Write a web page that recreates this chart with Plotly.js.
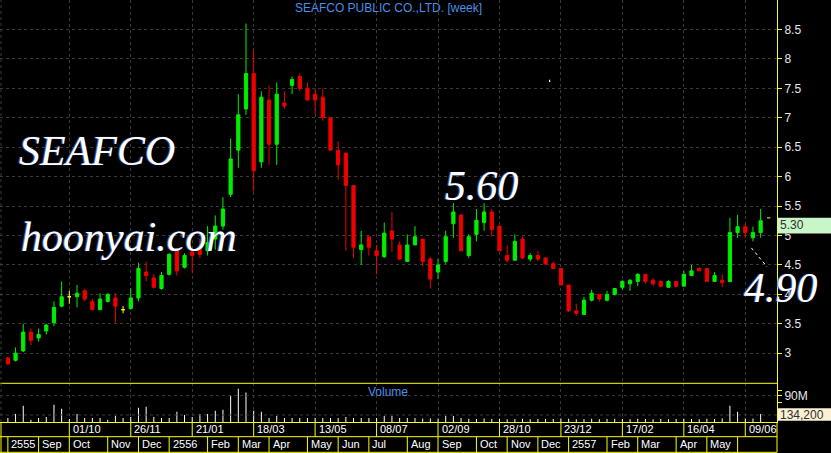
<!DOCTYPE html>
<html><head><meta charset="utf-8">
<script src="https://cdn.plot.ly/plotly-3.0.1.min.js"></script>
<style>html,body{margin:0;padding:0;background:#000;overflow:hidden}#chart{width:831px;height:453px}</style>
</head><body><div id="chart"></div>
<script>
// ---- data (weekly, SEAFCO) ----
const weeks = [
'2012-08-06','2012-08-13','2012-08-20','2012-08-27','2012-09-03','2012-09-10','2012-09-17','2012-09-24','2012-10-01','2012-10-08',
'2012-10-15','2012-10-22','2012-10-29','2012-11-05','2012-11-12','2012-11-19','2012-11-26','2012-12-03','2012-12-10','2012-12-17',
'2012-12-24','2012-12-31','2013-01-07','2013-01-14','2013-01-21','2013-01-28','2013-02-04','2013-02-11','2013-02-18','2013-02-25',
'2013-03-04','2013-03-11','2013-03-18','2013-03-25','2013-04-01','2013-04-08','2013-04-15','2013-04-22','2013-04-29','2013-05-06',
'2013-05-13','2013-05-20','2013-05-27','2013-06-03','2013-06-10','2013-06-17','2013-06-24','2013-07-01','2013-07-08','2013-07-15',
'2013-07-22','2013-07-29','2013-08-05','2013-08-12','2013-08-19','2013-08-26','2013-09-02','2013-09-09','2013-09-16','2013-09-23',
'2013-09-30','2013-10-07','2013-10-14','2013-10-21','2013-10-28','2013-11-04','2013-11-11','2013-11-18','2013-11-25','2013-12-02',
'2013-12-09','2013-12-16','2013-12-23','2013-12-30','2014-01-06','2014-01-13','2014-01-20','2014-01-27','2014-02-03','2014-02-10',
'2014-02-17','2014-02-24','2014-03-03','2014-03-10','2014-03-17','2014-03-24','2014-03-31','2014-04-07','2014-04-14','2014-04-21',
'2014-04-28','2014-05-05','2014-05-12','2014-05-19','2014-05-26','2014-06-02','2014-06-09','2014-06-16','2014-06-23'];

const open = [
2.92,2.88,3.04,3.36,3.26,3.38,3.52,3.80,3.96,3.96, 4.06,3.88,3.74,3.88,3.94,3.74,3.76,3.94,4.38,4.28,
4.10,4.34,4.76,4.46,4.72,4.76,4.74,4.94,5.16,5.70, 6.45,7.15,7.75,6.25,7.30,6.55,7.25,7.55,7.70,7.50,
7.40,7.35,7.00,6.45,6.40,5.85,4.76,4.98,4.74,4.64, 5.08,4.84,4.56,4.84,4.94,4.60,4.38,4.56,5.20,5.35,
4.66,5.02,5.22,5.40,5.16,4.66,4.58,4.94,4.60,4.66, 4.62,4.52,4.44,4.16,3.72,3.66,3.90,4.00,3.90,4.00,
4.12,4.18,4.22,4.34,4.24,4.22,4.12,4.22,4.14,4.32, 4.44,4.44,4.22,4.24,4.22,5.05,5.15,4.96,5.05];
const high = [
2.94,3.10,3.50,3.42,3.42,3.50,3.88,4.22,4.06,4.16, 4.10,3.92,4.02,4.02,4.02,3.80,4.10,4.54,4.56,4.34,
4.38,4.70,4.78,4.70,4.74,4.94,5.16,5.34,5.65,6.65, 7.40,8.60,8.15,7.45,7.55,7.60,7.45,7.70,7.75,7.60,
7.50,7.50,7.00,6.60,6.40,5.85,5.08,4.98,4.84,5.22, 5.40,4.90,5.02,5.16,4.94,4.64,4.60,5.08,5.55,5.35,
5.02,5.45,5.55,5.45,5.16,4.84,5.02,4.98,4.70,4.74, 4.62,4.56,4.44,4.16,3.84,3.96,4.08,4.00,4.06,4.10,
4.24,4.26,4.36,4.34,4.28,4.24,4.24,4.22,4.40,4.50, 4.46,4.44,4.38,4.34,5.30,5.35,5.20,5.15,5.45];
const low = [
2.80,2.86,3.02,3.14,3.20,3.32,3.46,3.78,3.84,3.78, 3.88,3.74,3.74,3.86,3.52,3.68,3.74,3.88,4.22,4.10,
4.08,4.32,4.32,4.44,4.36,4.62,4.66,4.76,5.10,5.65, 6.15,7.05,5.75,6.15,6.20,6.20,7.15,7.40,7.45,7.30,
7.05,6.95,6.45,5.95,4.74,4.62,4.50,4.66,4.34,4.62, 4.72,4.58,4.56,4.84,4.48,4.10,4.26,4.52,4.96,4.74,
4.62,4.90,5.08,4.98,4.74,4.54,4.58,4.60,4.56,4.56, 4.50,4.44,4.16,3.70,3.64,3.66,3.88,3.88,3.88,3.98,
4.08,4.06,4.14,4.18,4.14,4.12,4.12,4.12,4.14,4.32, 4.40,4.22,4.22,4.12,4.22,4.96,4.96,4.90,4.96];
const close = [
2.82,3.00,3.36,3.22,3.32,3.48,3.78,3.96,3.96,4.02, 3.92,3.74,3.92,4.00,3.80,3.74,3.94,4.44,4.32,4.12,
4.32,4.68,4.40,4.66,4.66,4.68,4.88,5.16,5.45,6.30, 7.05,7.75,6.10,7.35,6.55,7.40,7.20,7.65,7.50,7.30,
7.30,7.00,6.45,6.20,5.85,4.80,4.84,4.80,4.66,5.04, 4.94,4.60,4.84,4.98,4.56,4.26,4.50,4.98,5.40,4.74,
4.98,5.26,5.40,5.10,4.74,4.58,4.90,4.62,4.66,4.60, 4.52,4.44,4.16,3.72,3.68,3.90,4.02,3.92,4.00,4.10,
4.22,4.24,4.34,4.22,4.18,4.14,4.22,4.14,4.34,4.40, 4.40,4.22,4.32,4.20,5.05,5.15,5.05,5.05,5.25];
// weekly volume, million shares
const volume = [
13.8,27.7,55.4,8.1,13.8,17.3,58.8,45.0,10.4,27.7, 13.8,13.8,13.8,8.1,20.8,13.8,17.3,48.5,51.9,17.3,
13.8,13.8,34.6,24.2,17.3,27.7,27.7,38.1,41.5,90.0, 113.0,100.4,38.1,34.6,13.8,20.8,13.8,13.8,13.8,13.8,
13.8,13.8,13.8,13.8,17.3,13.8,13.8,13.8,13.8,20.8, 20.8,13.8,13.8,13.8,12.0,12.0,12.0,20.8,20.8,13.8,
11.0,10.0,12.0,10.0,11.0,9.0,10.0,11.0,9.0,10.0, 11.0,10.0,12.0,11.0,9.0,10.0,11.0,9.0,10.0,11.0,
10.0,9.0,11.0,10.0,9.0,10.0,9.0,10.0,11.0,10.0, 9.0,11.0,10.0,12.0,55.4,34.6,12.0,12.0,27.7];

const priceTicks = [3,3.5,4,4.5,5,5.5,6,6.5,7,7.5,8,8.5];
const volTicks = [67,90,107];
const volTickText = ['','90M',''];
const dateTickWeeks = ['2012-10-01','2012-11-26','2013-01-21','2013-03-18','2013-05-13','2013-07-08',
                       '2013-09-02','2013-10-28','2013-12-23','2014-02-17','2014-04-14','2014-06-09'];
const dateTickLabels = ['01/10','26/11','21/01','18/03','13/05','08/07','02/09','28/10','23/12','17/02','16/04','09/06'];
const monthStartWeeks = ['2012-08-06','2012-09-03','2012-10-01','2012-11-05','2012-12-03','2012-12-31','2013-02-04',
  '2013-03-04','2013-04-01','2013-05-06','2013-06-03','2013-07-01','2013-08-05','2013-09-02','2013-10-07','2013-11-04',
  '2013-12-02','2013-12-30','2014-02-03','2014-03-03','2014-04-07','2014-05-05','2014-06-02'];
const monthLabels = ['2555','Sep','Oct','Nov','Dec','2556','Feb','Mar','Apr','May','Jun','Jul','Aug','Sep','Oct','Nov',
  'Dec','2557','Feb','Mar','Apr','May',''];
const titleText = 'SEAFCO PUBLIC CO.,LTD. [week]';
const lastPrice = 5.30;
const lastPriceText = '5.30';
const lastVolumeText = '134,200';
const highNote = '5.60';
const lowNote = '4.90';

// ---- style ----
const GRID = '#3a3a3a', YEL = '#ffff00', BLUE = '#4a8fe8', UP = '#00ee00', DN = '#ee0000', DOJI = '#ffff00';
const SANS = 'Liberation Sans, Arial, sans-serif';
const SERIF = 'Liberation Serif, Times New Roman, serif';
const PW = 777, PH = 422;           // plot area in px
const px = v => v / PW, py = v => (PH - v) / PH;
const VSPLIT = py(383.3);

const sel = (arr, f) => arr.map((v, i) => f(i) ? v : null);
function candle(f, color) {
  return {type:'candlestick', x:weeks, open:sel(open,f), high:sel(high,f), low:sel(low,f), close:sel(close,f),
    xaxis:'x', yaxis:'y', whiskerwidth:0, hoverinfo:'skip',
    increasing:{line:{color:color,width:1}, fillcolor:color},
    decreasing:{line:{color:color,width:1}, fillcolor:color}};
}
const traces = [
  candle(i => close[i] > open[i], UP),
  candle(i => close[i] < open[i], DN),
  candle(i => close[i] === open[i], DOJI),
  {type:'bar', x:weeks, y:volume, xaxis:'x', yaxis:'y2', width:0.13,
   marker:{color:'#ffffff', line:{width:0}}, hoverinfo:'skip'}
];

const shapes = [];
const L = (o, color, dash) => Object.assign({type:'line', line:{color:color||YEL, width:1, dash:dash||'solid'}}, o);
// panel separator and row borders
shapes.push(L({xref:'paper', yref:'paper', x0:0, x1:1, y0:VSPLIT, y1:VSPLIT}));
shapes.push(L({xref:'paper', yref:'paper', x0:0, x1:1, y0:py(436.7), y1:py(436.7)}));
shapes.push(L({xref:'paper', yref:'paper', x0:0, x1:1, y0:py(452.3), y1:py(452.3)}));
shapes.push(L({xref:'paper', yref:'paper', x0:0.0013, x1:0.0013, y0:0, y1:py(452.3)}));
shapes.push(L({xref:'paper', yref:'paper', x0:1, x1:1, y0:0, y1:py(452.3)}));
shapes.push(L({xref:'paper', yref:'paper', x0:0.0013, x1:0.0013, y0:0, y1:1}, GRID, '3px,3px'));
// volume panel grid
[90, 24].forEach(v => shapes.push(L({xref:'paper', yref:'y2', x0:0, x1:1, y0:v, y1:v}, GRID, '3px,3px')));

const ann = [];
// date row
dateTickWeeks.forEach((w, k) => {
  const xi = weeks.indexOf(w);
  shapes.push(L({xref:'x', yref:'paper', x0:xi, x1:xi, y0:0, y1:py(436.7)}));
  ann.push({xref:'x', yref:'paper', x:xi, y:py(428.9), xanchor:'left', yanchor:'middle', xshift:1.5,
    text:dateTickLabels[k], showarrow:false, font:{family:SANS, size:11, color:'#ffffff'}});
});
// month row
monthStartWeeks.forEach((w, k) => {
  const xi = weeks.indexOf(w);
  shapes.push(L({xref:'x', yref:'paper', x0:xi, x1:xi, y0:py(436.7), y1:py(452.3)}));
  if (monthLabels[k]) ann.push({xref:'x', yref:'paper', x:xi, y:py(444.3), xanchor:'left', yanchor:'middle', xshift:1.5,
    text:monthLabels[k], showarrow:false, font:{family:SANS, size:11, color:'#ffffff'}});
});

// last price / volume labels
const n = close.length - 1;
shapes.push({type:'rect', xref:'paper', yref:'y', x0:1.001, x1:831/PW, y0:lastPrice-0.265, y1:lastPrice,
  fillcolor:'#c8f6c8', line:{width:0}, layer:'above'});
shapes.push({type:'rect', xref:'paper', yref:'paper', x0:1.001, x1:831/PW, y0:py(420.7), y1:py(408.3),
  fillcolor:'#fbf1d4', line:{width:0}, layer:'above'});
shapes.push(L({xref:'x', yref:'y', x0:n+0.83, x1:n+1.26, y0:lastPrice, y1:lastPrice}));
// pointer to the low
shapes.push(L({xref:'x', yref:'y', x0:n-1.21, x1:n+0.83, y0:4.79, y1:4.47}, '#ffffff', 'dot'));
shapes.push({type:'rect', xref:'paper', yref:'paper', x0:px(549), x1:px(550.2), y0:py(82), y1:py(79.8),
  fillcolor:'#ffffff', line:{width:0}});

ann.push({xref:'paper', yref:'paper', x:px(778), y:py(225.3), xanchor:'left', yanchor:'middle', text:lastPriceText,
  showarrow:false, font:{family:SANS, size:12, color:'#303030'}});
ann.push({xref:'paper', yref:'paper', x:px(778), y:py(414.7), xanchor:'left', yanchor:'middle', text:lastVolumeText,
  showarrow:false, font:{family:SANS, size:12, color:'#303030'}});
ann.push({xref:'paper', yref:'paper', x:px(388), y:py(391.8), xanchor:'center', yanchor:'middle', text:'Volume',
  showarrow:false, font:{family:SANS, size:12, color:BLUE}});

const big = {family:SERIF, size:42, color:'#ffffff', style:'italic', shadow:'-1px 0px 1px #3f6dff'};
[['SEAFCO',17,151.3],['hoonyai.com',19,236.8],[highNote,443,185.8],[lowNote,742,288.3]].forEach(t => {
  ann.push({xref:'paper', yref:'paper', x:px(t[1]), y:py(t[2]), xanchor:'left', yanchor:'middle', text:t[0],
    showarrow:false, font:big});
});

const layout = {
  width:831, height:453,
  margin:{l:0, r:54, t:0, b:31, pad:0},
  paper_bgcolor:'#000000', plot_bgcolor:'#000000',
  showlegend:false, hovermode:false, dragmode:false,
  boxgap:0.4, boxgroupgap:0.3,
  font:{family:SANS, size:12, color:'#e8e8e8'},
  title:{text:titleText, font:{family:SANS, size:12, color:BLUE}, xref:'paper', x:0.5, xanchor:'center',
         yref:'container', y:1-7.8/453, yanchor:'middle'},
  xaxis:{type:'category', categoryorder:'array', categoryarray:weeks, range:[-1.025, 100.13],
    anchor:'y2', showgrid:true, gridcolor:GRID, griddash:'3px,3px', gridwidth:1,
    tickvals:dateTickWeeks, showticklabels:false, ticks:'', showline:true, linecolor:YEL, linewidth:1,
    zeroline:false, rangeslider:{visible:false}, fixedrange:true},
  yaxis:{domain:[VSPLIT, 1], range:[2.49, 9.0], side:'right', anchor:'x',
    tickvals:priceTicks, ticks:'outside', ticklen:4, tickcolor:YEL, tickwidth:1,
    showline:true, linecolor:YEL, linewidth:1, showgrid:true, gridcolor:GRID, griddash:'3px,3px',
    zeroline:false, tickfont:{family:SANS, size:12, color:'#e8e8e8'}, fixedrange:true},
  yaxis2:{domain:[0, VSPLIT], range:[0, 132], side:'right', anchor:'x',
    tickvals:volTicks, ticktext:volTickText, ticks:'outside', ticklen:4, tickcolor:YEL, tickwidth:1,
    showline:true, linecolor:YEL, linewidth:1, showgrid:false, zeroline:false,
    tickfont:{family:SANS, size:12, color:'#e8e8e8'}, fixedrange:true},
  shapes:shapes,
  annotations:ann
};
Plotly.newPlot('chart', traces, layout, {staticPlot:true, displayModeBar:false});
</script>
</body></html>
